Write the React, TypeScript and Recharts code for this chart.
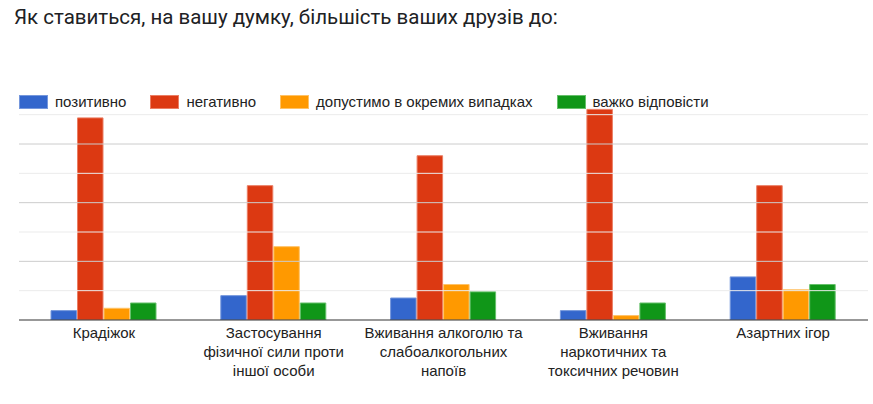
import { Bar, BarChart, ReferenceLine, XAxis, YAxis } from "recharts";

const title = "Як ставиться, на вашу думку, більшість ваших друзів до:";

const categories = [
  "Крадіжок",
  "Застосування фізичної сили проти іншої особи",
  "Вживання алкоголю та слабоалкогольних напоїв",
  "Вживання наркотичних та токсичних речовин",
  "Азартних ігор",
];
const categoryLines = [
  ["Крадіжок"],
  ["Застосування", "фізичної сили проти", "іншої особи"],
  ["Вживання алкоголю та", "слабоалкогольних", "напоїв"],
  ["Вживання", "наркотичних та", "токсичних речовин"],
  ["Азартних ігор"],
];

const positive = [3.2, 8.3, 7.5, 3.2, 14.7];
const negative = [68.9, 45.8, 56, 71.8, 45.8];
const acceptable = [4, 25, 12.1, 1.5, 10.3];
const hardToSay = [5.8, 5.8, 9.6, 5.8, 12.1];

const seriesNames = ["позитивно", "негативно", "допустимо в окремих випадках", "важко відповісти"];
const seriesKeys = ["positive", "negative", "acceptable", "hardToSay"];
const seriesFill = ["#3366cc", "#dc3912", "#ff9900", "#109618"];
const seriesStroke = ["#7597dc", "#eb7e64", "#ffc266", "#66c06b"];

const gridTicks = [10, 20, 30, 40, 50, 60, 70];

const data = categories.map((c, i) => ({
  name: c,
  positive: positive[i],
  negative: negative[i],
  acceptable: acceptable[i],
  hardToSay: hardToSay[i],
}));

const labelFont = "Arial, 'Liberation Sans', sans-serif";

function CategoryTick(props: any) {
  const { x, y, payload } = props;
  const lines = categoryLines[payload.index] ?? [payload.value];
  return (
    <text x={x} y={y} textAnchor="middle" fill="#222" fontSize={15} fontFamily={labelFont}>
      {lines.map((l, i) => (
        <tspan key={i} x={x} y={y + 17.5 + i * 19}>
          {l}
        </tspan>
      ))}
    </text>
  );
}

export default function App() {
  return (
    <div style={{ position: "absolute", left: 0, top: 0, width: 873, height: 404, background: "#fff" }}>
      <div
        style={{
          position: "absolute",
          left: 14,
          top: 5,
          fontFamily: "Roboto, sans-serif",
          fontSize: 20.5,
          color: "#202124",
          whiteSpace: "nowrap",
        }}
      >
        {title}
      </div>
      <div
        style={{
          position: "absolute",
          left: 19,
          top: 95,
          height: 14,
          display: "flex",
          alignItems: "center",
          fontFamily: labelFont,
          fontSize: 15,
          color: "#222",
          whiteSpace: "nowrap",
        }}
      >
        {seriesNames.map((n, i) => (
          <div key={n} style={{ display: "flex", alignItems: "center", marginRight: 24 }}>
            <span
              style={{
                display: "inline-block",
                width: 27,
                height: 12,
                background: seriesFill[i],
                border: `1px solid ${seriesStroke[i]}`,
                marginRight: 7,
              }}
            />
            <span style={{ lineHeight: "14px" }}>{n}</span>
          </div>
        ))}
      </div>
      <BarChart
        width={873}
        height={404}
        data={data}
        margin={{ top: 100, left: 19, right: 5, bottom: 24 }}
        barGap={1}
        barCategoryGap={32}
        style={{ position: "absolute", left: 0, top: 0 }}
      >
        {gridTicks.map((t) => (
          <ReferenceLine key={t} y={t} stroke={t % 20 === 0 ? "#cccccc" : "#ebebeb"} strokeWidth={1} />
        ))}
        <YAxis hide domain={[0, 75]} ticks={[0, ...gridTicks]} allowDataOverflow />
        <XAxis
          dataKey="name"
          height={60}
          interval={0}
          tickLine={false}
          tickSize={0}
          tickMargin={0}
          axisLine={{ stroke: "#333", strokeWidth: 1.2 }}
          tick={<CategoryTick />}
        />
        {seriesKeys.map((k, i) => (
          <Bar
            key={k}
            dataKey={k}
            name={seriesNames[i]}
            fill={seriesFill[i]}
            stroke={seriesStroke[i]}
            strokeWidth={1}
            barSize={25.5}
            isAnimationActive={false}
          />
        ))}
      </BarChart>
    </div>
  );
}
